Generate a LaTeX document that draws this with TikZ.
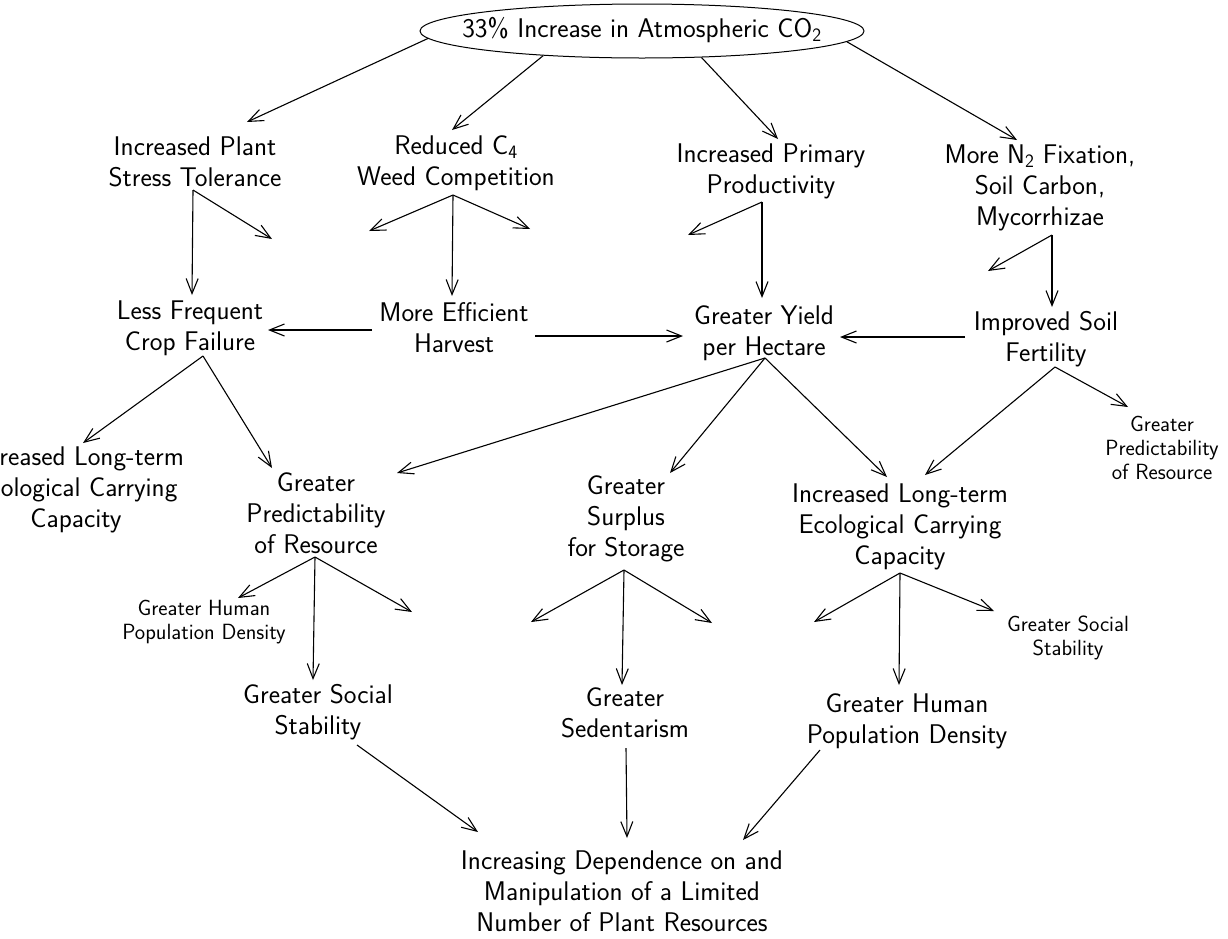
\documentclass[tikz,border=0pt]{standalone}
\usepackage{tikz}
\usetikzlibrary{arrows.meta,shapes.geometric}

\begin{document}
\begin{tikzpicture}[x=1pt,y=-1pt,
  arr/.style={->,>={Straight Barb[length=15pt,width=12pt]},line width=1.1pt},
  lbl/.style={align=center,inner sep=0pt,font=\sffamily\fontsize{27}{31}\selectfont},
  small lbl/.style={align=center,inner sep=0pt,font=\sffamily\fontsize{22}{24}\selectfont}]

\useasboundingbox (0,0) rectangle (1228,938);
\clip (0,0) rectangle (1228,938);

% top
\node[draw,ellipse,minimum width=444pt,minimum height=54pt,inner sep=0pt,line width=1pt] (co2) at (642,31) {};
\node[lbl] (co2-text) at (642,30) {33\% Increase in Atmospheric CO\textsubscript{2}};

% first row
\node[lbl] (plant) at (195,162) {Increased Plant\\Stress Tolerance};
\node[lbl] (weed) at (456,163) {Reduced C\textsubscript{4}\\Weed Competition};
\node[lbl] (prim) at (771,171) {Increased Primary\\Productivity};
\node[lbl] (nfix) at (1040,188) {More N\textsubscript{2} Fixation,\\Soil Carbon,\\Mycorrhizae};

% second row
\node[lbl] (crop) at (190,328) {Less Frequent\\Crop Failure};
\node[lbl] (harv) at (454,328) {More Efficient\\Harvest};
\node[lbl] (yield) at (764,333) {Greater Yield\\per Hectare};
\node[lbl] (soil) at (1046,339) {Improved Soil\\Fertility};

% third row
\node[lbl] (carryL) at (76,490) {Increased Long-term\\Ecological Carrying\\Capacity};
\node[lbl] (predict) at (316,513) {Greater\\Predictability\\of Resource};
\node[lbl] (surplus) at (626,519) {Greater\\Surplus\\for Storage};
\node[lbl] (carry) at (900,527) {Increased Long-term\\Ecological Carrying\\Capacity};
\node[small lbl] (predictR) at (1162,448) {Greater\\Predictability\\of Resource};

% fourth row
\node[small lbl] (humanL) at (204,622) {Greater Human\\Population Density};
\node[small lbl] (socialR) at (1068,638) {Greater Social\\Stability};
\node[lbl] (social) at (318,712) {Greater Social\\Stability};
\node[lbl] (sedent) at (625,713) {Greater\\Sedentarism};
\node[lbl] (human) at (907,721) {Greater Human\\Population Density};

% bottom
\node[lbl] (depend) at (622,891) {Increasing Dependence on and\\Manipulation of a Limited\\Number of Plant Resources};

% hubs under the nodes
\coordinate (plant-hub) at ([shift={(-2,28)}]plant.center);
\coordinate (weed-hub) at ([shift={(-3,32)}]weed.center);
\coordinate (prim-hub) at ([shift={(-9,31)}]prim.center);
\coordinate (nfix-hub) at ([shift={(12,47)}]nfix.center);
\coordinate (crop-hub) at ([shift={(13,28)}]crop.center);
\coordinate (yield-hub) at ([shift={(1,25)}]yield.center);
\coordinate (soil-hub) at ([shift={(9,28)}]soil.center);
\coordinate (predict-hub) at ([shift={(-1,44)}]predict.center);
\coordinate (surplus-hub) at ([shift={(-2,51)}]surplus.center);
\coordinate (carry-hub) at ([shift={(0,46)}]carry.center);

% arrows that point at nothing
\coordinate (plant-r) at (272,239);
\coordinate (weed-l) at (369,231);
\coordinate (weed-r) at (530,229);
\coordinate (prim-l) at (688,235);
\coordinate (nfix-l) at (988,271);
\coordinate (predict-r) at (412,612);
\coordinate (surplus-l) at (531,622);
\coordinate (surplus-r) at (712,623);
\coordinate (carry-l) at (814,622);

\path[arr]
  (co2.182) edge ([shift={(52,-40)}]plant.center)
  (co2.194) edge ([shift={(-4,-33)}]weed.center)
  (co2.336) edge ([shift={(7,-32)}]prim.center)
  (co2.357) edge ([shift={(-23,-48)}]nfix.center)

  (plant-hub) edge (plant-r)
  edge ([shift={(2,-33)}]crop.center)
  (weed-hub) edge (weed-l)
  edge (weed-r)
  edge ([shift={(-2,-32)}]harv.center)
  (prim-hub) edge (prim-l)
  edge ([shift={(-2,-35)}]yield.center)
  (nfix-hub) edge (nfix-l)
  edge ([shift={(6,-32)}]soil.center)

  ([shift={(-82,2)}]harv.center) edge ([shift={(78,2)}]crop.center)
  ([shift={(81,8)}]harv.center) edge ([shift={(-81,3)}]yield.center)
  ([shift={(-81,-2)}]soil.center) edge ([shift={(76,4)}]yield.center)

  (crop-hub) edge ([shift={(7,-47)}]carryL.center)
  edge ([shift={(-44,-45)}]predict.center)
  (yield-hub) edge ([shift={(81,-40)}]predict.center)
  edge ([shift={(44,-46)}]surplus.center)
  edge ([shift={(-13,-50)}]carry.center)
  (soil-hub) edge ([shift={(25,-52)}]carry.center)
  edge ([shift={(-34,-41)}]predictR.center)

  (predict-hub) edge ([shift={(34,-24)}]humanL.center)
  edge (predict-r)
  edge ([shift={(-5,-32)}]social.center)
  (surplus-hub) edge (surplus-l)
  edge (surplus-r)
  edge ([shift={(-3,-28)}]sedent.center)
  (carry-hub) edge (carry-l)
  edge ([shift={(-74,-27)}]socialR.center)
  edge ([shift={(-8,-36)}]human.center)

  ([shift={(39,33)}]social.center) edge ([shift={(-144,-59)}]depend.center)
  ([shift={(1,35)}]sedent.center) edge ([shift={(5,-53)}]depend.center)
  ([shift={(-87,29)}]human.center) edge ([shift={(121,-51)}]depend.center);

\end{tikzpicture}
\end{document}
